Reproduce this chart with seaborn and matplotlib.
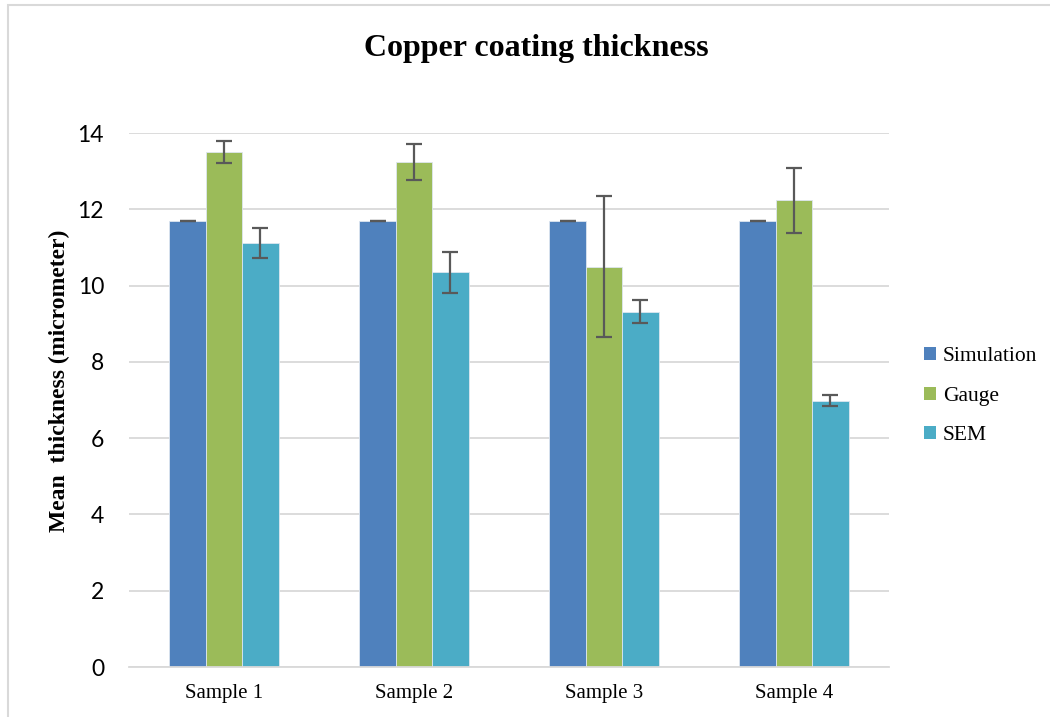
import numpy as np
import matplotlib.pyplot as plt
import pandas as pd
import seaborn as sns
from matplotlib.patches import Rectangle

# data
samples = ['Sample 1', 'Sample 2', 'Sample 3', 'Sample 4']
methods = ['Simulation', 'Gauge', 'SEM']
simulation = [11.7, 11.7, 11.7, 11.7]
gauge = [13.5, 13.24, 10.5, 12.24]
sem = [11.11, 10.35, 9.32, 6.98]
simulation_err = [0.0, 0.0, 0.0, 0.0]
gauge_err = [0.29, 0.48, 1.85, 0.85]
sem_err = [0.4, 0.54, 0.3, 0.14]
colors = ['#4F81BD', '#9BBB59', '#4BACC6']

df = pd.DataFrame({
    'sample': samples * 3,
    'method': np.repeat(methods, len(samples)),
    'value': simulation + gauge + sem,
    'err': simulation_err + gauge_err + sem_err,
})

sns.set_style('white')
plt.rcParams['font.family'] = ['Liberation Serif', 'DejaVu Serif']
plt.rcParams['text.color'] = 'black'
plt.rcParams['axes.labelcolor'] = 'black'
plt.rcParams['xtick.color'] = 'black'
plt.rcParams['ytick.color'] = 'black'

fig = plt.figure(figsize=(10.5, 7.17), dpi=100)
ax = fig.add_axes([129 / 1050, 50 / 717, 760 / 1050, 534 / 717])

sns.barplot(data=df, x='sample', y='value', hue='method', hue_order=methods,
            palette=colors, errorbar=None, width=0.575, saturation=1,
            edgecolor='#dde6f0', linewidth=0.6, ax=ax)

# error bars on top of each seaborn bar
for container, method in zip(ax.containers, methods):
    sub = df[df['method'] == method]
    xs = [p.get_x() + p.get_width() / 2 for p in container.patches]
    ax.errorbar(xs, sub['value'].values, yerr=sub['err'].values, fmt='none',
                ecolor='#595959', elinewidth=1.6, capsize=6, capthick=1.6, zorder=5)

ax.set_ylim(0, 14)
ax.set_xlim(-0.5, 3.5)
ax.set_yticks(np.arange(0, 15, 2))
ax.yaxis.grid(True, color='#d9d9d9', linewidth=1.3)
ax.set_axisbelow(True)
for side in ['top', 'right', 'left']:
    ax.spines[side].set_visible(False)
ax.spines['bottom'].set_color('#d9d9d9')
ax.spines['bottom'].set_linewidth(1.3)
ax.tick_params(axis='both', length=0)
ax.tick_params(axis='y', pad=18)
ax.tick_params(axis='x', pad=12)
for lab in ax.get_yticklabels():
    lab.set_fontfamily(['Lato', 'DejaVu Sans'])
    lab.set_fontsize(16.5)
for lab in ax.get_xticklabels():
    lab.set_fontsize(15)

ax.set_xlabel('')
ax.set_ylabel('Mean  thickness (micrometer)', fontsize=17, fontweight='bold')
ax.yaxis.set_label_coords(-0.077, 0.535)

fig.text(0.511, 0.933, 'Copper coating thickness', ha='center', va='center',
         fontsize=23, fontweight='bold')

leg = ax.legend(loc='center left', bbox_to_anchor=(1.021, 0.507), frameon=False,
                fontsize=15.5, handlelength=0.55, handleheight=0.55,
                handletextpad=0.3, labelspacing=0.95)
for h in leg.legend_handles:
    h.set_edgecolor('none')

# chart area border (left and top)
fig.add_artist(Rectangle((8 / 1050, -0.01), 1.1, 1 - 5 / 717 + 0.01,
                         transform=fig.transFigure, fill=False,
                         edgecolor='#d9d9d9', linewidth=1.5))

fig.savefig('out.png', dpi=100)
